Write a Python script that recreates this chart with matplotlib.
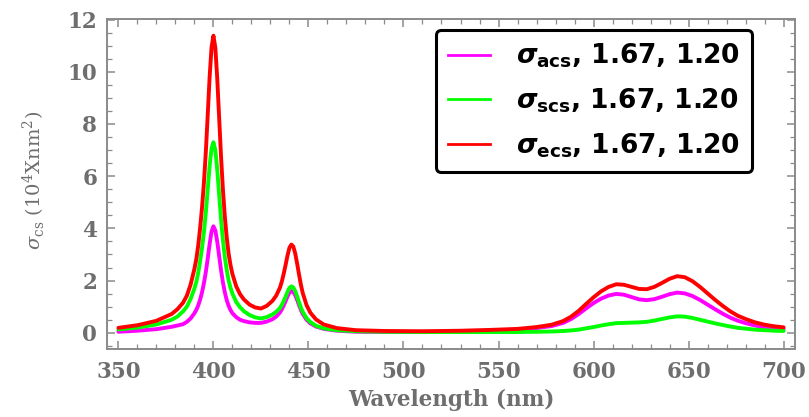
import matplotlib
matplotlib.use("Agg")
import matplotlib.pyplot as plt
from matplotlib.lines import Line2D
from matplotlib.ticker import MultipleLocator

plt.rcParams['mathtext.fontset'] = 'custom'
plt.rcParams['mathtext.it'] = 'DejaVu Sans:italic:bold'
plt.rcParams['mathtext.rm'] = 'DejaVu Sans:bold'
plt.rcParams['mathtext.bf'] = 'DejaVu Sans:bold'
plt.rcParams['mathtext.sf'] = 'DejaVu Serif:italic'
plt.rcParams['mathtext.tt'] = 'DejaVu Serif'

wavelength = [350, 360, 370, 378, 381, 384, 386, 388, 390, 391, 392, 393, 394, 395, 396, 397, 398, 399,
              400, 401, 402, 403, 404, 405, 406, 407, 408, 409, 410, 412, 414, 416, 419, 422, 425, 428,
              431, 433, 435, 436, 437, 438, 439, 440, 441, 442, 443, 444, 445, 446, 447, 449, 451, 454,
              458, 465, 475, 490, 510, 530, 545, 560, 570, 578, 584, 588, 592, 596, 600, 604, 608, 612,
              616, 620, 624, 628, 632, 636, 640, 644, 648, 652, 656, 660, 664, 668, 672, 676, 680, 685,
              690, 695, 700]
sigma_acs = [0.04, 0.08, 0.14, 0.23, 0.28, 0.33, 0.42, 0.55, 0.75, 0.88, 1.05, 1.27, 1.55, 1.90, 2.33, 2.85, 3.40, 3.88,
             4.08, 3.92, 3.50, 2.95, 2.40, 1.93, 1.55, 1.25, 1.03, 0.87, 0.75, 0.60, 0.50, 0.45, 0.40, 0.38, 0.38, 0.43,
             0.52, 0.62, 0.78, 0.90, 1.05, 1.22, 1.40, 1.54, 1.60, 1.57, 1.45, 1.27, 1.07, 0.88, 0.72, 0.50, 0.36, 0.24,
             0.15, 0.08, 0.04, 0.03, 0.03, 0.05, 0.08, 0.12, 0.18, 0.26, 0.38, 0.52, 0.71, 0.93, 1.14, 1.31, 1.43, 1.49,
             1.46, 1.37, 1.28, 1.25, 1.29, 1.38, 1.48, 1.54, 1.51, 1.41, 1.26, 1.08, 0.90, 0.73, 0.58, 0.46, 0.37, 0.28,
             0.21, 0.17, 0.14]
sigma_scs = [0.13, 0.20, 0.32, 0.50, 0.62, 0.82, 1.00, 1.30, 1.70, 1.95, 2.30, 2.75, 3.25, 3.85, 4.60, 5.50, 6.40, 7.05,
             7.30, 7.00, 6.25, 5.30, 4.35, 3.55, 2.90, 2.40, 2.00, 1.72, 1.50, 1.18, 0.98, 0.83, 0.68, 0.59, 0.55, 0.60,
             0.70, 0.80, 0.95, 1.07, 1.22, 1.39, 1.57, 1.72, 1.78, 1.74, 1.60, 1.40, 1.18, 0.97, 0.80, 0.56, 0.41, 0.27,
             0.17, 0.10, 0.06, 0.04, 0.03, 0.03, 0.03, 0.03, 0.04, 0.05, 0.07, 0.09, 0.12, 0.17, 0.22, 0.28, 0.33, 0.37,
             0.38, 0.39, 0.40, 0.42, 0.47, 0.53, 0.59, 0.63, 0.62, 0.57, 0.50, 0.43, 0.36, 0.30, 0.24, 0.19, 0.16, 0.12,
             0.10, 0.08, 0.07]
sigma_ecs = [0.19, 0.29, 0.46, 0.72, 0.90, 1.15, 1.42, 1.85, 2.45, 2.83, 3.35, 4.02, 4.80, 5.75, 6.93, 8.35, 9.80, 10.93,
             11.38, 10.92, 9.75, 8.25, 6.75, 5.48, 4.45, 3.65, 3.03, 2.59, 2.25, 1.78, 1.48, 1.28, 1.08, 0.97, 0.93, 1.03,
             1.22, 1.42, 1.73, 1.97, 2.27, 2.61, 2.97, 3.26, 3.38, 3.31, 3.05, 2.67, 2.25, 1.85, 1.52, 1.06, 0.77, 0.51,
             0.32, 0.18, 0.10, 0.07, 0.06, 0.08, 0.11, 0.15, 0.22, 0.31, 0.45, 0.61, 0.83, 1.10, 1.36, 1.59, 1.76, 1.86,
             1.84, 1.76, 1.68, 1.67, 1.76, 1.91, 2.07, 2.17, 2.13, 1.98, 1.76, 1.51, 1.26, 1.03, 0.82, 0.65, 0.53, 0.40,
             0.31, 0.25, 0.21]

labels = [r"$\sigma_{\mathrm{acs}}$, 1.67, 1.20",
          r"$\sigma_{\mathrm{scs}}$, 1.67, 1.20",
          r"$\sigma_{\mathrm{ecs}}$, 1.67, 1.20"]
colors = ["#FF00FF", "#00FF00", "#FF0000"]
x_ticks = [350, 400, 450, 500, 550, 600, 650, 700]
y_ticks = [0, 2, 4, 6, 8, 10, 12]

fig = plt.figure(figsize=(8.09, 4.17), dpi=100)
ax = fig.add_axes([107/809, 1 - 349/417, (795-107)/809, (349-19)/417])

for ys, c in zip([sigma_acs, sigma_scs, sigma_ecs], colors):
    ax.plot(wavelength, ys, color=c, lw=2.8, solid_capstyle='round', solid_joinstyle='round')

ax.set_xlim(344, 706)
ax.set_ylim(-0.62, 12.02)
ax.set_xticks(x_ticks)
ax.set_yticks(y_ticks)
ax.xaxis.set_minor_locator(MultipleLocator(10))
ax.yaxis.set_minor_locator(MultipleLocator(0.5))

gray = "#6e6e6e"
for s in ax.spines.values():
    s.set_color("#8a8a8a")
    s.set_linewidth(1.4)
ax.tick_params(which='both', direction='in', top=True, right=True, color="#8a8a8a")
ax.tick_params(which='major', length=6, width=1.1)
ax.tick_params(which='minor', length=3.5, width=0.9)
ax.tick_params(axis='x', which='major', pad=9)
ax.tick_params(axis='y', which='major', pad=7)
for lab in ax.get_xticklabels() + ax.get_yticklabels():
    lab.set_fontfamily('DejaVu Serif')
    lab.set_fontweight('bold')
    lab.set_fontsize(15.5)
    lab.set_color(gray)

ax.set_xlabel("Wavelength (nm)", fontfamily='DejaVu Serif', fontweight='bold',
              fontsize=15.5, color=gray)
ax.xaxis.set_label_coords(0.5, -0.155)
ax.xaxis.label.set_va('center')

ax.set_ylabel(r"$\mathsf{\sigma}_{\mathtt{cs}}$ (10$^{\mathtt{4}}$Xnm$^{\mathtt{2}}$)",
              fontfamily='DejaVu Serif', fontsize=14, color=gray)
ax.yaxis.set_label_coords(-0.105, 0.512)
ax.yaxis.label.set_va('center')

handles = [Line2D([], [], color=c, lw=2) for c in colors]
leg = ax.legend(handles, labels, loc='upper right', bbox_to_anchor=(752/809, 1 - 30/417),
                bbox_transform=fig.transFigure, prop={'family': 'DejaVu Sans', 'weight': 'bold', 'size': 19},
                handlelength=1.6, handletextpad=1.0, labelspacing=0.62, borderpad=0.45,
                borderaxespad=0, fancybox=True, framealpha=1, edgecolor='black')
leg.get_frame().set_linewidth(2.2)

fig.savefig("out.png", dpi=100)
